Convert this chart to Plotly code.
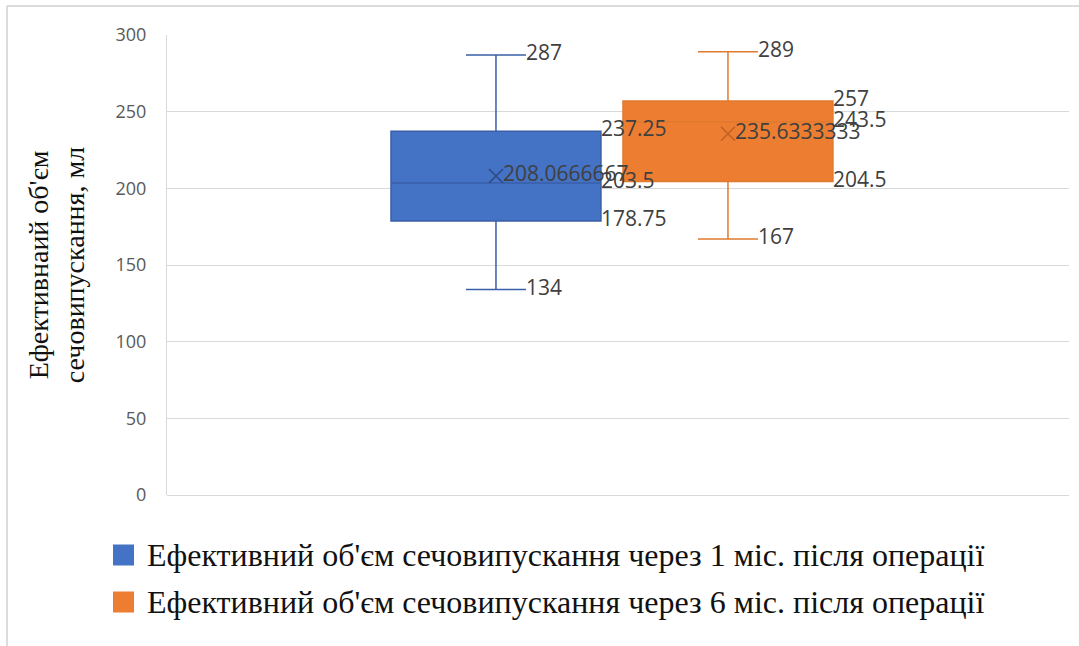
import plotly.graph_objects as go

# Series names (legend entries)
series_names = [
    "Ефективний об'єм сечовипускання через 1 міс. після операції",
    "Ефективний об'єм сечовипускання через 6 міс. після операції",
]
# Five-number summaries and means for each series
min_vals = [134, 167]
q1_vals = [178.75, 204.5]
median_vals = [203.5, 243.5]
q3_vals = [237.25, 257]
max_vals = [287, 289]
mean_vals = [208.0666667, 235.6333333]

# Box positions along the (hidden) category axis
positions = [-0.5, 0.5]
y_ticks = [0, 50, 100, 150, 200, 250, 300]
y_title = "Ефективнаий об'єм<br>сечовипускання, мл"

fill_colors = ["#4472C4", "#ED7D31"]
line_colors = ["#3A5FA8", "#E07A2E"]
mean_colors = ["#2E4A86", "#C0632A"]

BOX_W = 0.905
CAP_FRAC = 0.286
LABEL_FONT = dict(family="Open Sans, Liberation Sans, sans-serif", size=21, color="#404040")


def fmt(v):
    return f"{v:.10g}"


fig = go.Figure()

for i in range(2):
    p = positions[i]
    fig.add_trace(go.Box(
        x=[p], q1=[q1_vals[i]], median=[median_vals[i]], q3=[q3_vals[i]],
        lowerfence=[min_vals[i]], upperfence=[max_vals[i]],
        width=BOX_W, whiskerwidth=CAP_FRAC,
        fillcolor=fill_colors[i], line=dict(color=line_colors[i], width=1.5),
        showlegend=False, hoverinfo="skip",
    ))
    # Mean marker
    fig.add_trace(go.Scatter(
        x=[p], y=[mean_vals[i]], mode="markers",
        marker=dict(symbol="x-thin-open", size=14, color=mean_colors[i],
                    line=dict(color=mean_colors[i], width=1.6)),
        showlegend=False, hoverinfo="skip",
    ))
    # Value labels for the box edges (right side of the box)
    box_edge = p + BOX_W / 2
    cap_edge = p + BOX_W * CAP_FRAC / 2
    fig.add_trace(go.Scatter(
        x=[box_edge] * 3 + [cap_edge] * 2 + [p + 0.03],
        y=[q3_vals[i], median_vals[i], q1_vals[i], max_vals[i], min_vals[i], mean_vals[i]],
        mode="text",
        text=[fmt(v) for v in [q3_vals[i], median_vals[i], q1_vals[i],
                               max_vals[i], min_vals[i], mean_vals[i]]],
        textposition="middle right",
        textfont=LABEL_FONT,
        showlegend=False, hoverinfo="skip", cliponaxis=False,
    ))

# Legend drawn as coloured squares with text
legend_rows_px = [555, 602]
for i in range(2):
    cy = legend_rows_px[i]
    fig.add_shape(type="rect", xref="paper", yref="paper",
                  x0=(113 - 167) / 902, x1=(134 - 167) / 902,
                  y0=(495 - cy - 10.5) / 460, y1=(495 - cy + 10.5) / 460,
                  fillcolor=fill_colors[i], line=dict(width=0))
    fig.add_annotation(xref="paper", yref="paper",
                       x=(145 - 167) / 902, y=(495 - cy) / 460,
                       text=series_names[i], showarrow=False,
                       xanchor="left", yanchor="middle",
                       font=dict(family="Liberation Serif, Times New Roman, serif",
                                 size=32, color="#111111"))

# Outer frame lines (top and left)
fig.add_shape(type="line", xref="paper", yref="paper",
              x0=(7 - 167) / 902, x1=(1079 - 167) / 902,
              y0=(495 - 6) / 460, y1=(495 - 6) / 460,
              line=dict(color="#D0D0D0", width=1.5))
fig.add_shape(type="line", xref="paper", yref="paper",
              x0=(7 - 167) / 902, x1=(7 - 167) / 902,
              y0=(495 - 6) / 460, y1=(495 - 646) / 460,
              line=dict(color="#D0D0D0", width=1.5))

fig.update_layout(
    width=1079, height=646,
    margin=dict(l=167, r=10, t=35, b=151),
    paper_bgcolor="white", plot_bgcolor="white",
    boxmode="overlay",
    showlegend=False,
    xaxis=dict(range=[-1.918, 1.970], showticklabels=False, showgrid=False,
               zeroline=False, ticks=""),
    yaxis=dict(range=[0, 300], tickvals=y_ticks, ticktext=[str(t) for t in y_ticks],
               showgrid=True, gridcolor="#D9D9D9", gridwidth=1,
               zeroline=True, zerolinecolor="#D9D9D9", zerolinewidth=1,
               showline=True, linecolor="#D9D9D9", linewidth=1,
               ticks="", ticklabelstandoff=16,
               tickfont=dict(family="Open Sans, Liberation Sans, sans-serif",
                             size=18, color="#595959"),
               title=dict(text=y_title, standoff=22,
                          font=dict(family="Liberation Serif, Times New Roman, serif",
                                    size=28, color="#111111"))),
)

fig.write_html("out.html")
